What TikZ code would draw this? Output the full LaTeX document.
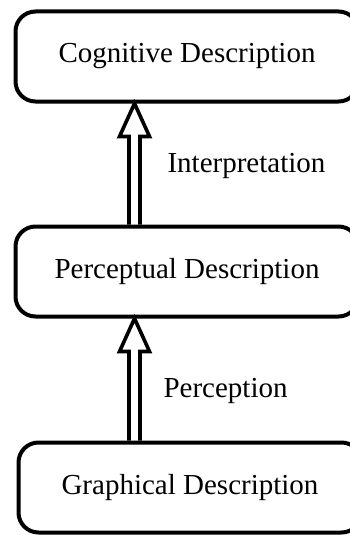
\documentclass[tikz,border=0pt]{standalone}
\usepackage{fontspec}
\setmainfont{Liberation Serif}
\usepackage{tikz}
\usetikzlibrary{calc}

\begin{document}
\begin{tikzpicture}[x=1pt, y=1pt,
    descbox/.style={draw, line width=4pt, rounded corners=20pt, minimum width=343pt, minimum height=90pt, font=\fontsize{29}{31}\selectfont},
    hollow/.style={draw, line width=3.6pt, line join=miter},
    steplabel/.style={font=\fontsize{29}{31}\selectfont, anchor=west}]
    \useasboundingbox (0, 0) rectangle (350, -535);

    % Description boxes
    \node[descbox] (cog) at (187, -56.5) {Cognitive Description};
    \node[descbox] (perc) at (187, -271.5) {Perceptual Description};
    \node[descbox] (graph) at (190, -487.5) {Graphical Description};

    % Arrow axis
    \coordinate (ax) at (134.5, 0);

    % Interpretation arrow
    \draw[hollow] ($(ax |- perc.north)+(-5.5,0)$) -- ($(ax |- cog.south)+(-5.5,-33)$) -- ($(ax |- cog.south)+(-15,-33)$) -- (ax |- cog.south)
        -- ($(ax |- cog.south)+(15,-33)$) -- ($(ax |- cog.south)+(5.5,-33)$) -- ($(ax |- perc.north)+(5.5,0)$);
    \node[steplabel] (interp) at (164, -166) {Interpretation};

    % Perception arrow
    \draw[hollow] ($(ax |- graph.north)+(-5.5,0)$) -- ($(ax |- perc.south)+(-5.5,-33)$) -- ($(ax |- perc.south)+(-15,-33)$) -- (ax |- perc.south)
        -- ($(ax |- perc.south)+(15,-33)$) -- ($(ax |- perc.south)+(5.5,-33)$) -- ($(ax |- graph.north)+(5.5,0)$);
    \node[steplabel] (percep) at (160, -391) {Perception};
\end{tikzpicture}
\end{document}
